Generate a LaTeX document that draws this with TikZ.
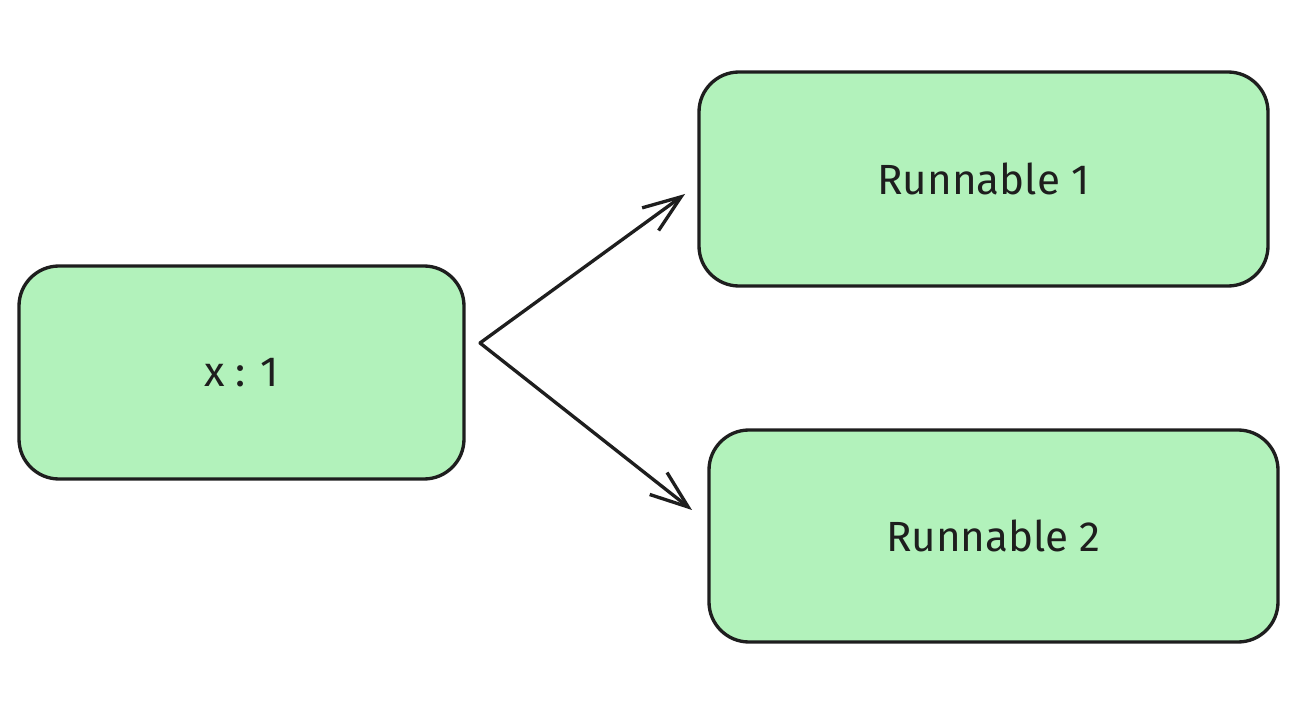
\documentclass[tikz,border=0pt]{standalone}
\usepackage{fontspec}
\setmainfont{Fira Sans}
\usepackage{tikz}
\usetikzlibrary{arrows.meta}
\definecolor{boxgreen}{RGB}{178,242,187}
\definecolor{ink}{RGB}{30,30,30}

\begin{document}
\begin{tikzpicture}[
        box/.style={draw=ink,fill=boxgreen,line width=1.9pt,rounded corners=0.8cm,font=\fontsize{24}{28}\selectfont,text=ink},
        link/.style={draw=ink,line width=1.9pt,line cap=round,-{Straight Barb[length=0.76cm,width=0.56cm,line width=1.9pt]}}
    ]
                    \useasboundingbox (0,0) rectangle (26.32,-14.44);

                    \node[box,minimum width=8.9cm,minimum height=4.26cm] (x) at (4.83,-7.45) {x : 1};
                    \node[box,minimum width=11.38cm,minimum height=4.28cm] (run1) at (19.67,-3.58) {Runnable 1};
                    \node[box,minimum width=11.38cm,minimum height=4.24cm] (run2) at (19.87,-10.72) {Runnable 2};

                    \coordinate (fork) at (9.6,-6.86);
                    \coordinate (in1) at (13.7,-3.88);
                    \coordinate (in2) at (13.84,-10.2);

                    \draw[link] (fork) -- (in1);
                    \draw[link] (fork) -- (in2);

                \end{tikzpicture}
\end{document}
